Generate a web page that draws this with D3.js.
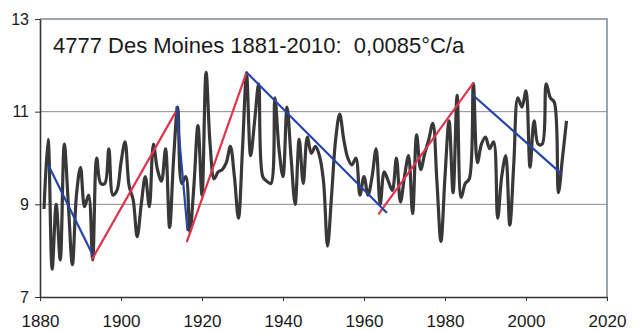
<!DOCTYPE html>
<html>
<head>
<meta charset="utf-8">
<script src="https://cdn.jsdelivr.net/npm/d3@7"></script>
<style>
	body { margin: 0; background: #fff; }
	svg { display: block; font-family: "Liberation Sans", Arial, sans-serif; }
</style>
</head>
<body>
<div id="chart"></div>
<script>
// annual mean temperature, Des Moines, 1881-2010
var firstYear = 1881;
var temps = [
	8.9, 10.4, 7.6, 9.0, 7.8, 10.3, 9.0, 7.7, 9.2, 9.8,
	8.95, 9.2, 7.8, 10.0, 9.45, 9.45, 10.2, 9.2, 9.3, 9.9,
	10.35, 9.4, 9.1, 8.3, 9.0, 9.6, 8.95, 10.3, 9.75, 9.5,
	10.2, 8.5, 10.0, 11.1, 9.45, 9.6, 8.4, 9.4, 10.7, 9.2,
	11.85, 10.3, 9.55, 9.7, 9.75, 9.9, 10.25, 9.6, 8.7, 10.2,
	11.8, 10.05, 10.8, 11.6, 9.6, 9.5, 9.45, 11.3, 10.2, 9.6,
	11.1, 10.0, 9.0, 10.4, 9.45, 10.45, 10.1, 10.25, 10.05, 9.5,
	8.1, 9.2, 10.4, 10.95, 10.4, 10.0, 9.85, 10.0, 9.2, 9.6,
	9.2, 9.6, 10.2, 9.0, 9.7, 9.5, 9.3, 10.0, 9.05, 9.6,
	10.05, 8.8, 10.5, 9.75, 10.1, 10.4, 10.75, 9.5, 8.2, 9.6,
	10.8, 9.25, 11.35, 9.15, 9.45, 9.55, 11.6, 9.9, 10.3, 10.45,
	10.2, 10.35, 8.7, 9.6, 10.05, 8.55, 9.9, 11.3, 11.1, 11.45,
	9.8, 10.8, 10.3, 10.3, 11.6, 11.3, 11.2, 9.25, 10.0, 10.8
];

// piecewise trend segments: [startYear, startValue, endYear, endValue]
var coolingTrends = [
	[1882.2, 9.82, 1892.9, 7.93],
	[1913.7, 11.1, 1916.4, 8.45],
	[1931, 11.85, 1965.5, 8.83],
	[1987, 11.35, 2008.5, 9.68]
];
var warmingTrends = [
	[1892.9, 7.82, 1913.4, 10.98],
	[1916.3, 8.2, 1931, 11.85],
	[1963.7, 8.8, 1987, 11.62]
];

var xTicks = [1880, 1900, 1920, 1940, 1960, 1980, 2000, 2020];
var yTicks = [7, 9, 11, 13];
var titleText = "4777 Des Moines 1881-2010:  0,0085°C/a";

(function () {
	var svgwidth = 638;
	var svgheight = 332;
	var plotLeft = 40, plotRight = 607, plotTop = 19, plotBottom = 297;

	var svg = d3.select("#chart")
		.append("svg")
		.attr("width", svgwidth)
		.attr("height", svgheight);

	var xScale = d3.scaleLinear().domain([1880, 2020]).range([plotLeft, plotRight]);
	var yScale = d3.scaleLinear().domain([7, 13]).range([plotBottom, plotTop]);

	var series = temps.map(function (t, i) {
		return { year: firstYear + i, value: t };
	});

	// gridlines
	svg.append("g")
		.selectAll("line")
		.data(yTicks.filter(function (d) { return d > 7 && d < 13; }))
		.enter()
		.append("line")
		.attr("x1", plotLeft)
		.attr("x2", plotRight)
		.attr("y1", function (d) { return yScale(d); })
		.attr("y2", function (d) { return yScale(d); })
		.attr("stroke", "#8c8c8c")
		.attr("stroke-width", 1);

	// plot frame top/right
	svg.append("path")
		.attr("d", "M" + plotLeft + "," + yScale(13) + "H" + plotRight + "V" + yScale(7))
		.attr("fill", "none")
		.attr("stroke", "#7d8896")
		.attr("stroke-width", 1.5);

	// axes
	var xAxis = svg.append("g")
		.attr("transform", "translate(0," + plotBottom + ")")
		.call(d3.axisBottom(xScale).tickValues(xTicks).tickFormat(d3.format("d")).tickSize(4).tickSizeOuter(0));
	xAxis.select(".domain").attr("stroke", "#333").attr("stroke-width", 1.6);
	xAxis.selectAll(".tick line").attr("stroke", "#333");
	xAxis.selectAll("text")
		.attr("fill", "#1a1a1a")
		.style("font-size", "17px")
		.attr("y", 15)
		.attr("dy", "0.9em");

	var yAxis = svg.append("g")
		.attr("transform", "translate(" + plotLeft + ",0)")
		.call(d3.axisLeft(yScale).tickValues(yTicks).tickFormat(d3.format("d")).tickSize(5).tickSizeOuter(0));
	yAxis.select(".domain").attr("stroke", "#333").attr("stroke-width", 1.6);
	yAxis.selectAll(".tick line").attr("stroke", "#333");
	yAxis.selectAll("text")
		.attr("fill", "#1a1a1a")
		.style("font-size", "16px")
		.attr("x", -11);

	// temperature line
	var line = d3.line()
		.x(function (d) { return xScale(d.year); })
		.y(function (d) { return yScale(d.value); })
		.curve(d3.curveCatmullRom.alpha(0.5));

	svg.append("path")
		.datum(series)
		.attr("d", line)
		.attr("fill", "none")
		.attr("stroke", "#383838")
		.attr("stroke-width", 3.2)
		.attr("stroke-linejoin", "round");

	// trend segments
	function drawTrends(data, colour) {
		svg.append("g")
			.selectAll("line")
			.data(data)
			.enter()
			.append("line")
			.attr("x1", function (d) { return xScale(d[0]); })
			.attr("y1", function (d) { return yScale(d[1]); })
			.attr("x2", function (d) { return xScale(d[2]); })
			.attr("y2", function (d) { return yScale(d[3]); })
			.attr("stroke", colour)
			.attr("stroke-width", 2.2)
			.attr("stroke-linecap", "round");
	}
	drawTrends(warmingTrends, "#e0344c");
	drawTrends(coolingTrends, "#2546a6");

	svg.append("text")
		.attr("x", 53)
		.attr("y", 53)
		.attr("fill", "#1a1a1a")
		.style("font-size", "22px")
		.style("white-space", "pre")
		.text(titleText);
})();
</script>
</body>
</html>
